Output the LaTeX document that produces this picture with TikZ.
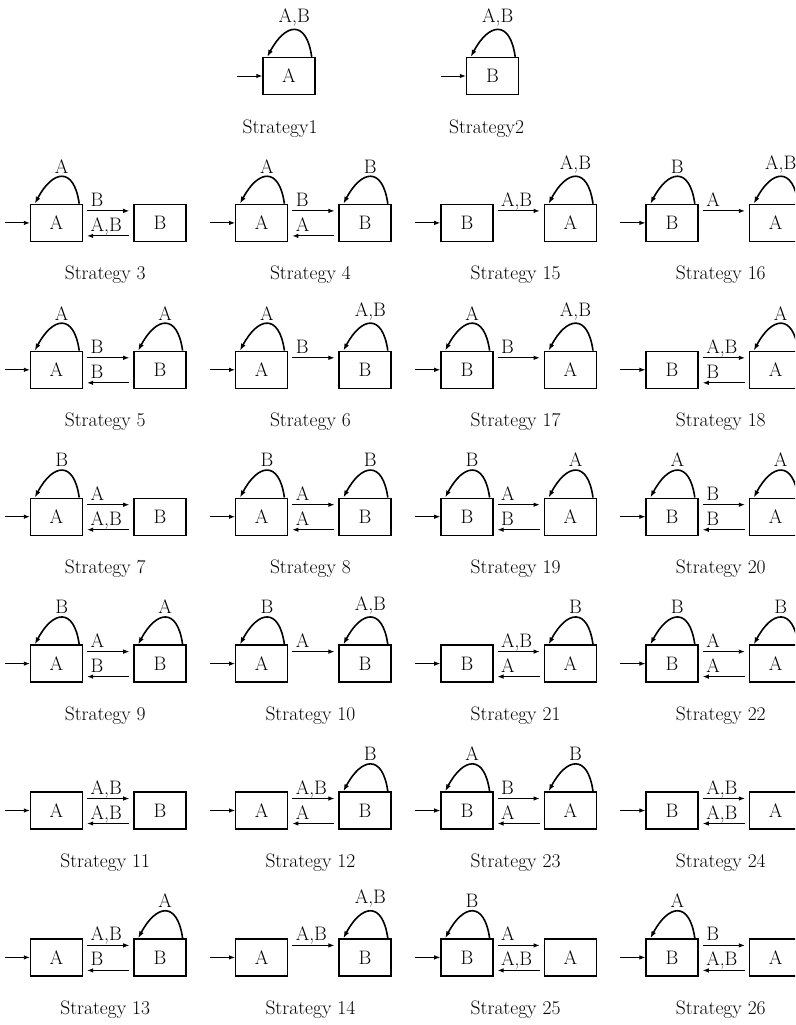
\documentclass[tikz,border=0pt]{standalone}
\usepackage{tikz}
\usetikzlibrary{calc,positioning,arrows.meta}

\newcommand{\pairat}[5]{%
  \node[stbox] (s#1a) at ({56.5+205.2*#2},{76+146.9*#3}) {#4};
  \node[stbox,right=of s#1a] (s#1b) {#5};
  \coordinate[left=25pt of s#1a] (s#1i);
  \draw[init] (s#1i) -- (s#1a);
  \node[stratlabel] (s#1t) at ($(s#1a)!.5!(s#1b)+(-3,57)$) {Strategy #1};
}
\newcommand{\fwd}[2]{\draw[trans] ([yshift=12pt]s#1a.east) -- ([yshift=12pt]s#1b.west) node[pos=0,edgelabel] (s#1f) {#2};}
\newcommand{\bwd}[2]{\draw[trans] ([yshift=-13pt]s#1b.west) -- ([yshift=-13pt]s#1a.east) node[pos=1,edgelabel] (s#1r) {#2};}
\newcommand{\selfloop}[2]{\draw[selfarc] ([xshift=-4pt]#1.north east) to[out=98,in=62,looseness=2.2] node[midway,above=2pt,inner sep=1pt] (#1l) {#2} ([xshift=5pt]#1.north west);}

\begin{document}
\begin{tikzpicture}[x=1pt,y=-1pt,node distance=50pt,
  font=\fontsize{19.5}{23}\selectfont,
  stbox/.style={draw,line width=1.4pt,minimum width=52pt,minimum height=37pt,inner sep=0pt},
  init/.style={-{Latex[length=6pt,width=4.5pt]},line width=0.9pt},
  trans/.style={-{Latex[length=6pt,width=4.5pt]},line width=0.9pt,shorten <=4pt,shorten >=4pt},
  selfarc/.style={-{Latex[length=7pt,width=5pt]},line width=1.6pt},
  edgelabel/.style={anchor=base west,inner sep=0pt,xshift=7pt,yshift=4.5pt},
  stratlabel/.style={anchor=base,inner sep=0pt}]
  \useasboundingbox (0,0) rectangle (795,1025);
  \clip (0,0) rectangle (795,1025);

  \node[stbox] (s1a) at (289,76) {A};
  \coordinate[left=25pt of s1a] (s1i);
  \draw[init] (s1i) -- (s1a);
  \selfloop{s1a}{A,B}
  \node[stratlabel] (s1t) at ($(s1a)+(-9,57)$) {Strategy1};

  \node[stbox] (s2a) at (492.5,76) {B};
  \coordinate[left=25pt of s2a] (s2i);
  \draw[init] (s2i) -- (s2a);
  \selfloop{s2a}{A,B}
  \node[stratlabel] (s2t) at ($(s2a)+(-6,57)$) {Strategy2};

  \pairat{3}{0}{1}{A}{B}  \selfloop{s3a}{A} \fwd{3}{B} \bwd{3}{A,B}
  \pairat{4}{1}{1}{A}{B}  \selfloop{s4a}{A} \selfloop{s4b}{B} \fwd{4}{B} \bwd{4}{A}
  \pairat{15}{2}{1}{B}{A} \selfloop{s15b}{A,B} \fwd{15}{A,B}
  \pairat{16}{3}{1}{B}{A} \selfloop{s16a}{B} \selfloop{s16b}{A,B} \fwd{16}{A}

  \pairat{5}{0}{2}{A}{B}  \selfloop{s5a}{A} \selfloop{s5b}{A} \fwd{5}{B} \bwd{5}{B}
  \pairat{6}{1}{2}{A}{B}  \selfloop{s6a}{A} \selfloop{s6b}{A,B} \fwd{6}{B}
  \pairat{17}{2}{2}{B}{A} \selfloop{s17a}{A} \selfloop{s17b}{A,B} \fwd{17}{B}
  \pairat{18}{3}{2}{B}{A} \selfloop{s18b}{A} \fwd{18}{A,B} \bwd{18}{B}

  \pairat{7}{0}{3}{A}{B}  \selfloop{s7a}{B} \fwd{7}{A} \bwd{7}{A,B}
  \pairat{8}{1}{3}{A}{B}  \selfloop{s8a}{B} \selfloop{s8b}{B} \fwd{8}{A} \bwd{8}{A}
  \pairat{19}{2}{3}{B}{A} \selfloop{s19a}{B} \selfloop{s19b}{A} \fwd{19}{A} \bwd{19}{B}
  \pairat{20}{3}{3}{B}{A} \selfloop{s20a}{A} \selfloop{s20b}{A} \fwd{20}{B} \bwd{20}{B}

  \pairat{9}{0}{4}{A}{B}  \selfloop{s9a}{B} \selfloop{s9b}{A} \fwd{9}{A} \bwd{9}{B}
  \pairat{10}{1}{4}{A}{B} \selfloop{s10a}{B} \selfloop{s10b}{A,B} \fwd{10}{A}
  \pairat{21}{2}{4}{B}{A} \selfloop{s21b}{B} \fwd{21}{A,B} \bwd{21}{A}
  \pairat{22}{3}{4}{B}{A} \selfloop{s22a}{B} \selfloop{s22b}{B} \fwd{22}{A} \bwd{22}{A}

  \pairat{11}{0}{5}{A}{B} \fwd{11}{A,B} \bwd{11}{A,B}
  \pairat{12}{1}{5}{A}{B} \selfloop{s12b}{B} \fwd{12}{A,B} \bwd{12}{A}
  \pairat{23}{2}{5}{B}{A} \selfloop{s23a}{A} \selfloop{s23b}{B} \fwd{23}{B} \bwd{23}{A}
  \pairat{24}{3}{5}{B}{A} \fwd{24}{A,B} \bwd{24}{A,B}

  \pairat{13}{0}{6}{A}{B} \selfloop{s13b}{A} \fwd{13}{A,B} \bwd{13}{B}
  \pairat{14}{1}{6}{A}{B} \selfloop{s14b}{A,B} \fwd{14}{A,B}
  \pairat{25}{2}{6}{B}{A} \selfloop{s25a}{B} \fwd{25}{A} \bwd{25}{A,B}
  \pairat{26}{3}{6}{B}{A} \selfloop{s26a}{A} \fwd{26}{B} \bwd{26}{A,B}
\end{tikzpicture}
\end{document}
